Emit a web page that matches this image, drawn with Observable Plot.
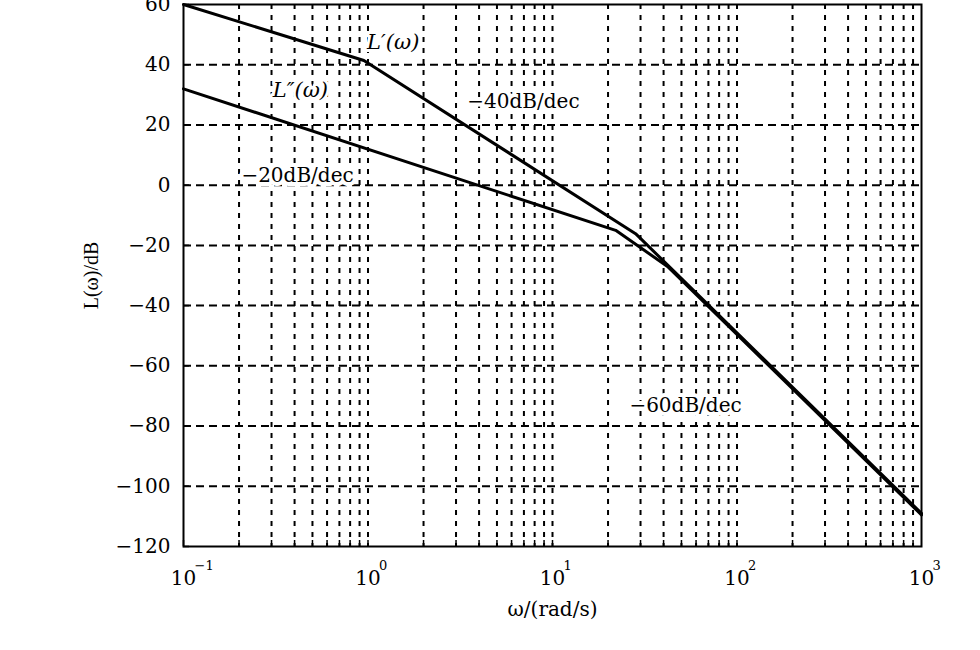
<!DOCTYPE html>
<html><head><meta charset="utf-8">
<script src="https://cdn.jsdelivr.net/npm/d3@7"></script>
<script src="https://cdn.jsdelivr.net/npm/@observablehq/plot@0.6"></script>
<style>body{margin:0;background:#fff}</style>
</head><body><div id="chart"></div>
<script>
// Series: L'(ω) and L''(ω), corner points (ω in rad/s, L in dB)
const lPrimeW = [0.1, 0.95, 28.2, 1000];
const lPrimeDb = [60, 41.4, -16.1, -109];
const lDoubleW = [0.1, 22, 42, 1000];
const lDoubleDb = [32, -15, -27, -109.5];

// Axis ticks
const yTicks = [-120, -100, -80, -60, -40, -20, 0, 20, 40, 60];
const yGrid = [-100, -80, -60, -40, -20, 0, 20, 40];
const decades = [0.1, 1, 10, 100, 1000];
const decadeBase = ["10", "10", "10", "10", "10"];
const decadeExp = ["−1", "0", "1", "2", "3"];
const multipliers = [1, 2, 3, 4, 5, 6, 7, 8, 9];

// Annotations
const italicText = ["L′(ω)", "L″(ω)"];
const italicW = [1.37, 0.43];
const italicDb = [47.4, 31.4];
const slopeText = ["−40dB/dec", "−20dB/dec", "−60dB/dec"];
const slopeW = [6.96, 0.415, 52.6];
const slopeDb = [27.8, 3.2, -73.2];

const xMinor = [];
for (const d of decades.slice(0, 4)) for (const m of multipliers) xMinor.push(d * m);
const xGrid = xMinor.filter(v => v > 0.1);

const lineData = [
  ...lPrimeW.map((w, i) => ({series: "L1", w, db: lPrimeDb[i]})),
  ...lDoubleW.map((w, i) => ({series: "L2", w, db: lDoubleDb[i]}))
];
const italicData = italicText.map((t, i) => ({t, w: italicW[i], db: italicDb[i]}));
const slopeData = slopeText.map((t, i) => ({t, w: slopeW[i], db: slopeDb[i]}));
const decData = decades.map((d, i) => ({d, base: decadeBase[i], exp: decadeExp[i]}));
const fmt = d => d < 0 ? "−" + Math.abs(d) : String(d);

const chart = Plot.plot({
  width: 980,
  height: 650,
  marginLeft: 183,
  marginRight: 59,
  marginTop: 4,
  marginBottom: 104,
  x: {type: "log", domain: [0.1, 1000], axis: null},
  y: {domain: [-120, 60]},
  style: {fontFamily: "DejaVu Serif", fontSize: "20px", color: "black", background: "white"},
  marks: [
    Plot.ruleX(xGrid, {x: d => d, stroke: "black", strokeWidth: 2, strokeDasharray: "5,6"}),
    Plot.ruleY(yGrid, {y: d => d, stroke: "black", strokeWidth: 2, strokeDasharray: "8,5"}),
    Plot.ruleX(xMinor, {x: d => d, insetTop: 536, stroke: "black", strokeWidth: 1.5}),
    Plot.ruleY(yTicks, {y: d => d, insetRight: 732, stroke: "black", strokeWidth: 1.5}),
    Plot.line(lineData, {x: "w", y: "db", z: "series", stroke: "black", strokeWidth: 3, strokeLinejoin: "round"}),
    Plot.text(slopeData, {x: "w", y: "db", text: "t", fontSize: 20, fill: "black", stroke: "white", strokeWidth: 8}),
    Plot.text(italicData, {x: "w", y: "db", text: "t", fontSize: 21, fontStyle: "italic", fill: "black", stroke: "white", strokeWidth: 6}),
    Plot.frame({stroke: "black", strokeWidth: 2}),
    Plot.axisY({ticks: yTicks, tickSize: 0, tickPadding: 13, tickFormat: fmt, fontSize: 20, label: null}),
    Plot.text(decData, {x: "d", y: () => -120, text: "base", dy: 32, fontSize: 20, clip: false}),
    Plot.text(decData, {x: "d", y: () => -120, text: "exp", dx: 11, dy: 19, textAnchor: "start", fontSize: 13, clip: false}),
    Plot.text(["ω/(rad/s)"], {text: d => d, frameAnchor: "bottom", lineAnchor: "middle", dy: 63, fontSize: 20}),
    Plot.text(["L(ω)/dB"], {text: d => d, frameAnchor: "left", textAnchor: "middle", lineAnchor: "middle", rotate: -90, dx: -92, fontSize: 20, fontFamily: "Liberation Serif"})
  ]
});
document.getElementById("chart").appendChild(chart);
</script>
</body></html>
